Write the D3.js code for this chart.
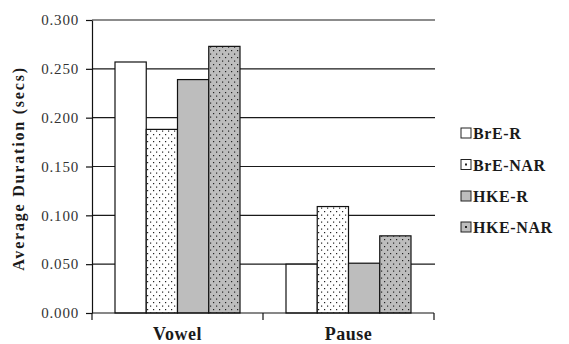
<!DOCTYPE html>
<html><head><meta charset="utf-8">
<script src="https://cdn.jsdelivr.net/npm/d3@7"></script>
<style>
body{margin:0;background:#fff;}
svg{display:block;}
text{font-family:"Liberation Serif","Times New Roman",serif;}
</style></head>
<body>
<svg id="chart" width="569" height="344"></svg>
<script>
const categories = ["Vowel", "Pause"];
const seriesNames = ["BrE-R", "BrE-NAR", "HKE-R", "HKE-NAR"];
const brER   = [0.257, 0.050];
const brENAR = [0.188, 0.109];
const hkeR   = [0.239, 0.051];
const hkeNAR = [0.273, 0.079];
const yTicks = [0, 0.05, 0.10, 0.15, 0.20, 0.25, 0.30];
const seriesValues = [brER, brENAR, hkeR, hkeNAR];

const svg = d3.select("#chart");
const defs = svg.append("defs");
function dotPattern(id, bg){
  const p = defs.append("pattern").attr("id", id).attr("patternUnits","userSpaceOnUse")
    .attr("width",6).attr("height",7);
  p.append("rect").attr("width",6).attr("height",7).attr("fill",bg);
  p.append("rect").attr("x",1).attr("y",1).attr("width",1.2).attr("height",1.2).attr("fill","#222");
  p.append("rect").attr("x",4).attr("y",4.5).attr("width",1.2).attr("height",1.2).attr("fill","#222");
}
dotPattern("pWhite", "#fff");
dotPattern("pGray", "#bdbdbd");
const fills = ["#ffffff", "url(#pWhite)", "#bdbdbd", "url(#pGray)"];

const mLeft = 92, mRight = 434, mTop = 20, mBottom = 313;
const y = d3.scaleLinear().domain([0, 0.3]).range([mBottom, mTop]);
const x0 = d3.scaleBand().domain(categories).range([mLeft, mRight]).padding(0);
const x1 = d3.scaleBand().domain(seriesNames).range([23, x0.bandwidth() - 23]).padding(0);

// gridlines
svg.append("g").selectAll("line").data(yTicks.filter(d => d > 0)).join("line")
  .attr("x1", mLeft).attr("x2", mRight + 1)
  .attr("y1", d => y(d)).attr("y2", d => y(d))
  .attr("stroke", "#1a1a1a").attr("stroke-width", 1.2);

// bars
const groups = svg.append("g").selectAll("g").data(categories).join("g")
  .attr("transform", c => `translate(${x0(c)},0)`);
groups.selectAll("rect").data((c, ci) => seriesNames.map((s, si) => ({s, si, v: seriesValues[si][ci]})))
  .join("rect")
  .attr("x", d => x1(d.s)).attr("width", x1.bandwidth())
  .attr("y", d => y(d.v)).attr("height", d => y(0) - y(d.v))
  .attr("fill", d => fills[d.si]).attr("stroke", "#111").attr("stroke-width", 1.2);

// y axis
const yAxis = svg.append("g").attr("transform", `translate(${mLeft},0)`)
  .call(d3.axisLeft(y).tickValues(yTicks).tickFormat(d3.format(".3f")).tickSize(6).tickSizeOuter(0));
yAxis.select(".domain").attr("stroke", "#111").attr("stroke-width", 1.2);
yAxis.selectAll(".tick line").attr("stroke", "#111").attr("stroke-width", 1.2);
yAxis.selectAll(".tick text").attr("x", -13).attr("fill", "#333")
  .style("font-size", "15px").style("letter-spacing", "0.8px")
  .style("font-family", "'Liberation Serif', serif");

// x axis with boundary ticks
const bounds = [mLeft, ...categories.map(c => x0(c) + x0.bandwidth())];
svg.append("line").attr("x1", mLeft).attr("x2", mRight).attr("y1", mBottom).attr("y2", mBottom)
  .attr("stroke", "#111").attr("stroke-width", 1.2);
svg.append("g").selectAll("line").data(bounds).join("line")
  .attr("x1", d => d).attr("x2", d => d).attr("y1", mBottom).attr("y2", mBottom + 7)
  .attr("stroke", "#111").attr("stroke-width", 1.2);
svg.append("g").selectAll("text").data(categories).join("text")
  .attr("x", c => x0(c) + x0.bandwidth() / 2).attr("y", 340)
  .attr("text-anchor", "middle").attr("font-weight", "bold").attr("font-size", 18)
  .attr("fill", "#1a1a1a").style("letter-spacing", "0.5px")
  .text(c => c);

// y title
svg.append("text").attr("transform", `translate(24,${(mTop + mBottom) / 2 + 2}) rotate(-90)`)
  .attr("text-anchor", "middle").attr("font-weight", "bold").attr("font-size", 16)
  .attr("fill", "#1a1a1a").style("letter-spacing", "1.8px")
  .text("Average Duration (secs)");

// legend
const legY = [133, 164.5, 196, 227];
const leg = svg.append("g").selectAll("g").data(seriesNames).join("g")
  .attr("transform", (d, i) => `translate(461,${legY[i]})`);
leg.append("rect").attr("x", 0).attr("y", -5).attr("width", 10).attr("height", 10)
  .attr("fill", (d, i) => i < 2 ? "#fff" : "#bdbdbd").attr("stroke", "#222").attr("stroke-width", 1);
leg.filter((d, i) => i % 2 === 1).append("rect").attr("x", 4).attr("y", -1).attr("width", 2).attr("height", 2).attr("fill", "#222");
leg.append("text").attr("x", 12).attr("y", 6).attr("font-weight", "bold").attr("font-size", 16)
  .attr("fill", "#1a1a1a").style("letter-spacing", "0.6px").text(d => d);
</script>
</body></html>
